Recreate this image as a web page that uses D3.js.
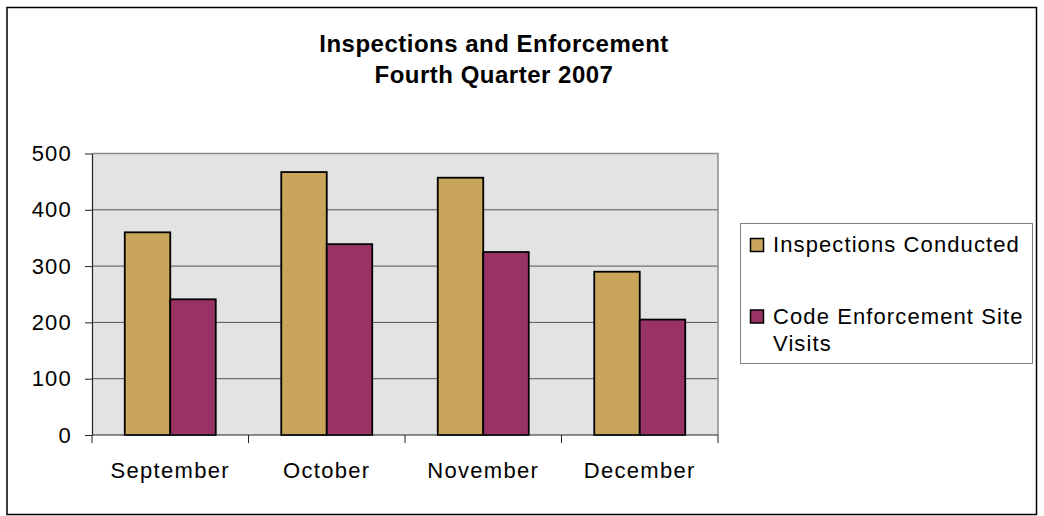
<!DOCTYPE html>
<html>
<head>
<meta charset="utf-8">
<script src="https://cdn.jsdelivr.net/npm/d3@7"></script>
<style>
  html, body { margin: 0; padding: 0; background: #ffffff; }
  svg { display: block; }
  text { font-family: "Liberation Sans", Arial, sans-serif; fill: #000; }
</style>
</head>
<body>
<svg id="chart" width="1044" height="516"></svg>
<script>
// Monthly inspection and code-enforcement counts, Q4 2007
const months = ["September", "October", "November", "December"];
const seriesNames = ["Inspections Conducted", "Code Enforcement Site Visits"];
const inspections = [360, 467, 457, 290];
const enforcementVisits = [241, 339, 325, 205];
const yTicks = [0, 100, 200, 300, 400, 500];
const titleLines = ["Inspections and Enforcement", "Fourth Quarter 2007"];
const seriesColors = ["#C8A55A", "#993366"];

const svg = d3.select("#chart");

// Outer chart frame
svg.append("rect")
  .attr("x", 7).attr("y", 7.5)
  .attr("width", 1029.5).attr("height", 507)
  .attr("fill", "#fff").attr("stroke", "#000").attr("stroke-width", 1.5);

// Title
svg.append("g").selectAll("text")
  .data(titleLines)
  .join("text")
  .attr("x", 494)
  .attr("y", (d, i) => 52 + i * 31)
  .attr("text-anchor", "middle")
  .attr("font-size", 24)
  .attr("font-weight", "bold")
  .attr("letter-spacing", 0.5)
  .text(d => d);

// Plot area
const plot = { left: 92, right: 718, top: 153.5, bottom: 435 };

const y = d3.scaleLinear().domain([0, 500]).range([plot.bottom, plot.top]);
const x0 = d3.scaleBand().domain(months).range([plot.left, plot.right]).padding(0);
const x1 = d3.scaleBand().domain(d3.range(seriesNames.length))
  .range([0, x0.bandwidth()]).paddingInner(0).paddingOuter(0.72);

svg.append("rect")
  .attr("x", plot.left).attr("y", plot.top)
  .attr("width", plot.right - plot.left).attr("height", plot.bottom - plot.top)
  .attr("fill", "#E3E3E3");

// Horizontal gridlines
svg.append("g").selectAll("line")
  .data(yTicks.filter(v => v > 0))
  .join("line")
  .attr("x1", plot.left).attr("x2", plot.right)
  .attr("y1", d => y(d)).attr("y2", d => y(d))
  .attr("stroke", "#555").attr("stroke-width", 1);

// Plot border (top and right)
svg.append("path")
  .attr("d", `M${plot.left},${plot.top}H${plot.right}V${plot.bottom}`)
  .attr("fill", "none").attr("stroke", "#8a8a8a").attr("stroke-width", 1.5);

// Bars
const values = [inspections, enforcementVisits];
const groups = svg.append("g").selectAll("g")
  .data(months)
  .join("g")
  .attr("transform", d => `translate(${x0(d)},0)`);

groups.selectAll("rect")
  .data((m, i) => values.map((vals, s) => ({ s, v: vals[i] })))
  .join("rect")
  .attr("x", d => x1(d.s))
  .attr("width", x1.bandwidth())
  .attr("y", d => y(d.v))
  .attr("height", d => y(0) - y(d.v))
  .attr("fill", d => seriesColors[d.s])
  .attr("stroke", "#000").attr("stroke-width", 1.8);

// Y axis
const yAxis = svg.append("g")
  .attr("transform", `translate(${plot.left},0)`)
  .call(d3.axisLeft(y).tickValues(yTicks).tickSize(7).tickSizeOuter(0).tickPadding(13));
yAxis.select(".domain").attr("stroke", "#222").attr("stroke-width", 1.2);
yAxis.selectAll(".tick line").attr("stroke", "#222");
yAxis.selectAll(".tick text")
  .attr("font-size", 22).attr("letter-spacing", 1.2)
  .attr("font-family", null).attr("fill", "#000");

// X axis with ticks at category boundaries
const xAxisG = svg.append("g").attr("transform", `translate(0,${plot.bottom})`);
xAxisG.append("line")
  .attr("x1", plot.left).attr("x2", plot.right)
  .attr("stroke", "#222").attr("stroke-width", 1.2);
const boundaries = months.map(m => x0(m)).concat([plot.right]);
xAxisG.selectAll("line.tk")
  .data(boundaries)
  .join("line").attr("class", "tk")
  .attr("x1", d => d).attr("x2", d => d)
  .attr("y1", 0).attr("y2", 8)
  .attr("stroke", "#222");
xAxisG.selectAll("text")
  .data(months)
  .join("text")
  .attr("x", d => x0(d) + x0.bandwidth() / 2)
  .attr("y", 43)
  .attr("text-anchor", "middle")
  .attr("font-size", 22)
  .attr("letter-spacing", 1.3)
  .text(d => d);

// Legend
const legend = svg.append("g");
legend.append("rect")
  .attr("x", 740.5).attr("y", 223.5)
  .attr("width", 292).attr("height", 140)
  .attr("fill", "#fff").attr("stroke", "#808080").attr("stroke-width", 1);

const legendRows = [
  { lines: ["Inspections Conducted"], y: 252 },
  { lines: ["Code Enforcement Site", "Visits"], y: 323.5 }
];
legendRows.forEach((row, i) => {
  legend.append("rect")
    .attr("x", 750.5).attr("y", row.y - 13.5)
    .attr("width", 13).attr("height", 13)
    .attr("fill", seriesColors[i]).attr("stroke", "#000").attr("stroke-width", 1.5);
  legend.append("g").selectAll("text")
    .data(row.lines)
    .join("text")
    .attr("x", 773)
    .attr("y", (d, j) => row.y + j * 27.5)
    .attr("font-size", 22)
    .attr("letter-spacing", 1.1)
    .text(d => d);
});
</script>
</body>
</html>
